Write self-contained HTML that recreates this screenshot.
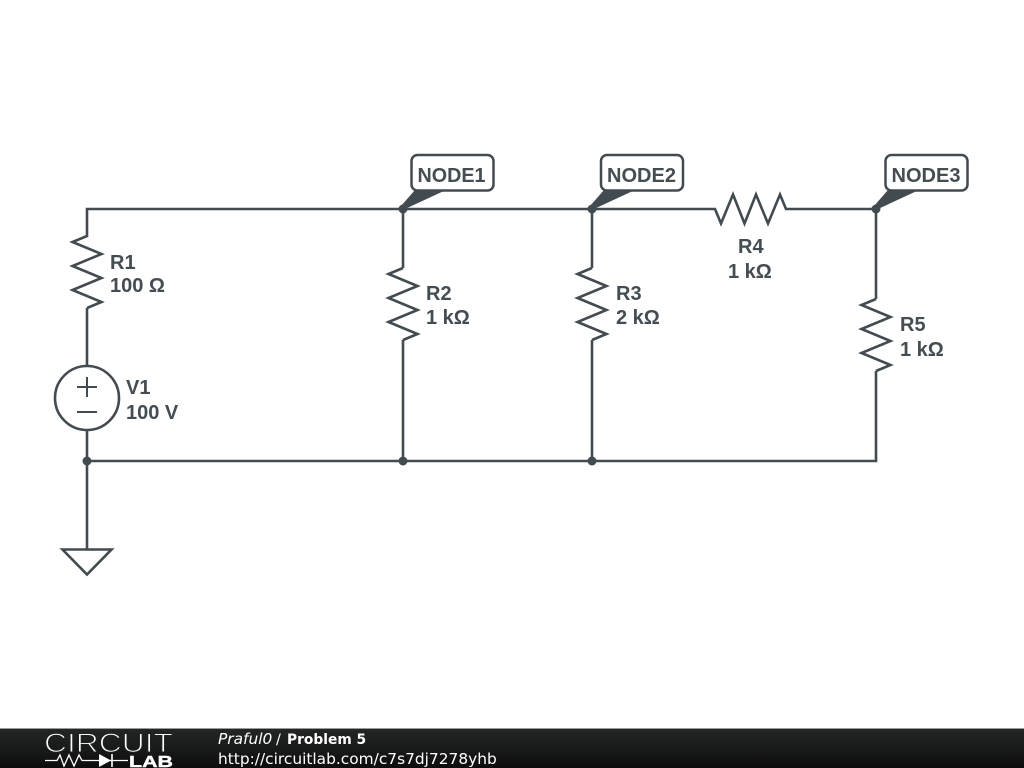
<!DOCTYPE html>
<html><head><meta charset="utf-8"><style>
html,body{margin:0;padding:0;background:#fff;width:1024px;height:768px;overflow:hidden}
svg{display:block;position:absolute;left:0;top:0}
.l{font-family:"Liberation Sans",sans-serif;font-weight:bold;font-size:20px;fill:#434d52}
.n{font-family:"Liberation Sans",sans-serif;font-weight:bold;font-size:20px;fill:#434d52}
.f{font-family:"DejaVu Sans",sans-serif;fill:#fff}
</style></head><body>
<svg width="1024" height="768" viewBox="0 0 1024 768" xmlns="http://www.w3.org/2000/svg">
<defs>
<linearGradient id="g" x1="0" y1="0" x2="0" y2="1"><stop offset="0" stop-color="#242626"/><stop offset="1" stop-color="#0d0d0d"/></linearGradient>
<polyline id="rv" points="0,0 -14.500,6 14.500,18 -14.500,30 14.500,42 -14.500,54 14.500,66 0,72" fill="none"/>
</defs>
<g stroke="#414b50" stroke-width="2.600" fill="none" stroke-linejoin="miter">
<path d="M87,237V209H716M785,209H876V299M876,371V461H87M87,308V366M87,430V549M403,209V268M403,340V461M592,209V268M592,340V461"/>
<polyline points="715,209 721,223.500 733,194.500 744.500,223.500 756,194.500 768,223.500 780,194.500 786,209"/>
<use href="#rv" x="87" y="236"/>
<use href="#rv" x="403" y="268"/>
<use href="#rv" x="592" y="268"/>
<use href="#rv" x="876" y="299"/>
<circle cx="87" cy="398" r="32"/>
<path d="M77,387H97M87,377V397M77,412H97" stroke-width="2"/>
<path d="M62.500,549.500H111.500L87,574.500Z"/>
</g>
<g fill="#414b50">
<circle cx="403" cy="209" r="4.500"/><circle cx="592" cy="209" r="4.500"/><circle cx="876" cy="209" r="4.500"/>
<circle cx="87" cy="461" r="4.500"/><circle cx="403" cy="461" r="4.500"/><circle cx="592" cy="461" r="4.500"/>
<path d="M401,206L415,190H446L405,209Z"/><path d="M590,206L604,190H635L594,209Z"/><path d="M874,206L888,190H919L878,209Z"/>
</g>
<g fill="#fff" stroke="#414b50" stroke-width="2.500">
<rect x="411.500" y="155" width="82" height="35.500" rx="6"/>
<rect x="601" y="155" width="82" height="35.500" rx="6"/>
<rect x="885.500" y="155" width="82" height="35.500" rx="6"/>
</g>
<path d="M416,189.500H445L435,194H412Z M605,189.500H634L624,194H601Z M889,189.500H918L908,194H885Z" fill="#414b50"/>
<text class="n" x="417.500" y="182" textLength="68" lengthAdjust="spacingAndGlyphs">NODE1</text>
<text class="n" x="607" y="182" textLength="69" lengthAdjust="spacingAndGlyphs">NODE2</text>
<text class="n" x="891.500" y="182" textLength="69" lengthAdjust="spacingAndGlyphs">NODE3</text>
<text class="l" x="110" y="269">R1</text><text class="l" x="110" y="292">100 Ω</text>
<text class="l" x="126" y="394">V1</text><text class="l" x="126" y="419">100 V</text>
<text class="l" x="426" y="300">R2</text><text class="l" x="426" y="324">1 kΩ</text>
<text class="l" x="616" y="300">R3</text><text class="l" x="616" y="324">2 kΩ</text>
<text class="l" x="738" y="253">R4</text><text class="l" x="728" y="278">1 kΩ</text>
<text class="l" x="900" y="331">R5</text><text class="l" x="900" y="356">1 kΩ</text>
<rect x="0" y="728" width="1024" height="1" fill="#9a9a9a"/>
<rect x="0" y="729" width="1024" height="39" fill="url(#g)"/>
<text x="44" y="752" font-family="Liberation Sans,sans-serif" font-size="27" fill="#fff" stroke="#1f2020" stroke-width="1.100" textLength="129" lengthAdjust="spacingAndGlyphs">CIRCUIT</text>
<path d="M45,760.500H57L60,755 64,766 69,755 74,766 79,755 82,760.500H128" fill="none" stroke="#fff" stroke-width="1.300"/>
<path d="M99,754L111,760.500 99,767Z" fill="#fff"/><path d="M112,754V767" stroke="#fff" stroke-width="1.600"/>
<text x="129" y="767" font-family="Liberation Sans,sans-serif" font-weight="bold" font-size="16" fill="#fff" stroke="#fff" stroke-width="0.400" textLength="44" lengthAdjust="spacingAndGlyphs">LAB</text>
<text class="f" x="218" y="744" font-size="15.400" font-style="italic">Praful0</text>
<text class="f" x="276" y="744" font-size="14.400">/</text>
<text class="f" x="287" y="744" font-size="13.800" font-weight="bold">Problem 5</text>
<text class="f" x="218" y="764" font-size="15.400">http://circuitlab.com/c7s7dj7278yhb</text>
</svg>
</body></html>
